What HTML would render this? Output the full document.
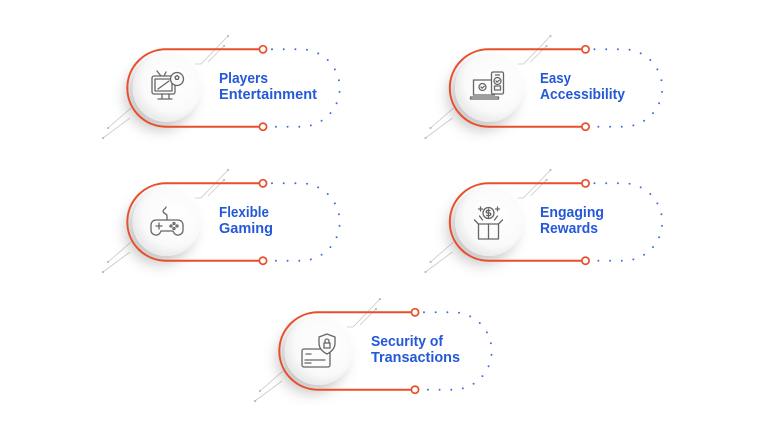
<!DOCTYPE html>
<html><head><meta charset="utf-8"><style>
html,body{margin:0;padding:0;background:#fff;}
svg{display:block;}
text{font-family:"Liberation Sans",Arial,sans-serif;font-weight:bold;font-size:14.5px;fill:#2459d8;}
</style></head><body>
<svg width="768" height="438" viewBox="0 0 768 438" xmlns="http://www.w3.org/2000/svg">
<defs>
<filter id="sh" x="-60%" y="-60%" width="220%" height="220%">
<feDropShadow dx="-7" dy="8" stdDeviation="7" flood-color="#000" flood-opacity="0.22"/>
</filter>
<radialGradient id="wg" cx="0.6" cy="0.4" r="0.6">
<stop offset="0" stop-color="#ffffff"/><stop offset="0.75" stop-color="#fafafa"/><stop offset="1" stop-color="#ebebeb"/>
</radialGradient>
<g id="frame">
<g stroke="#c8c8c8" stroke-width="0.8" fill="none">
<polyline points="228,36 201,64 195,64"/>
<line x1="224" y1="46" x2="208" y2="62"/>
<line x1="130" y1="118" x2="103" y2="138"/>
<line x1="131" y1="108" x2="108" y2="128"/>
</g>
<g fill="#bbb"><circle cx="228" cy="36" r="1.1"/><circle cx="224" cy="46" r="1.1"/><circle cx="103" cy="138" r="1.1"/><circle cx="108" cy="128" r="1.1"/></g>
<circle cx="166.5" cy="88" r="34" fill="url(#wg)" filter="url(#sh)"/>
<path d="M259.5,49.3 H166 A38.7,38.7 0 0 0 166,126.7 H259.5" fill="none" stroke="#e94e2c" stroke-width="2"/>
<circle cx="263" cy="49.3" r="3.6" fill="#fff" stroke="#e94e2c" stroke-width="1.7"/>
<circle cx="263" cy="126.7" r="3.6" fill="#fff" stroke="#e94e2c" stroke-width="1.7"/>
<path d="M272,49.3 H301 A38.7,38.7 0 0 1 301,126.7 H272" fill="none" stroke="#3d6ddc" stroke-width="2" stroke-linecap="round" stroke-dasharray="0 11.7"/>
</g>
</defs>

<use href="#frame"/>
<use href="#frame" x="322.5" y="0"/>
<use href="#frame" x="0" y="134"/>
<use href="#frame" x="322.5" y="134"/>
<use href="#frame" x="152" y="263"/>

<g fill="none" stroke="#666" stroke-width="1.3" stroke-linecap="round" stroke-linejoin="round">
<g>
<rect x="152" y="76" width="23" height="18" rx="2"/>
<rect x="155" y="79" width="17" height="12"/>
<path d="M162,94 v4 M169,94 v4 M158,99 h14"/>
<path d="M161,76 l-4,-5 M164,76 l2,-4"/>
<path d="M158,89 l11,-8"/>
<circle cx="177" cy="79" r="6.5" fill="#fafafa"/>
<path d="M175,77 l2,-1.5 l2,1.5 l-0.8,2.3 h-2.4 z"/>
</g>
<g transform="translate(322.5,0)">
<rect x="151" y="80" width="21" height="15"/>
<path d="M148,97 h28 v2 h-28 z"/>
<circle cx="160" cy="87" r="3.5"/>
<path d="M158.5,87 l1.2,1.2 l2,-2"/>
<rect x="169" y="72" width="12" height="22" rx="1.5" fill="#fafafa"/>
<circle cx="175" cy="81" r="3.5"/>
<path d="M173.5,81 l1.2,1.2 l2,-2"/>
<rect x="172" y="86" width="6" height="4"/>
<path d="M173,75 h4"/>
</g>
<g transform="translate(0,134)">
<path d="M156,86 h22 a5,5 0 0 1 5,5 v5 a5,5 0 0 1 -9,3 l-1,-2 h-12 l-1,2 a5,5 0 0 1 -9,-3 v-5 a5,5 0 0 1 5,-5 z"/>
<path d="M156,92 h6 M159,89 v6"/>
<circle cx="174" cy="89.5" r="1"/><circle cx="177" cy="92" r="1"/><circle cx="174" cy="94.5" r="1"/><circle cx="171" cy="92" r="1"/>
<path d="M167,86 v-4 c0,-3 -4,-2 -4,-5 c0,-2 3,-2 3,-4"/>
</g>
<g transform="translate(322.5,134)">
<rect x="156" y="90" width="20" height="15"/>
<path d="M166,90 v15 M156,90 l-4,-4 M176,90 l4,-4 M160,86 l-3,-4 M172,86 l3,-4"/>
<circle cx="166" cy="79" r="5.5" fill="#fafafa"/>
<path d="M167.5,76.5 h-2.5 a1.2,1.2 0 0 0 0,2.5 h2 a1.2,1.2 0 0 1 0,2.5 h-2.8 M166,75 v8.5"/>
<path d="M156,75 h4 M158,73 v4 M173,75 h4 M175,73 v4"/>
</g>
<g transform="translate(152,263)">
<rect x="150" y="86" width="28" height="18" rx="2"/>
<path d="M154,91 h5 M153,97 h20 M153,100 h6"/>
<path d="M175,71 l8,3 v6 c0,6 -4,9 -8,11 c-4,-2 -8,-5 -8,-11 v-6 z" fill="#fafafa"/>
<rect x="172" y="80" width="6" height="5"/>
<path d="M173,80 v-2 a2,2 0 0 1 4,0 v2"/>
</g>
</g>

<text x="219" y="83" textLength="49" lengthAdjust="spacingAndGlyphs">Players</text>
<text x="219" y="99" textLength="98" lengthAdjust="spacingAndGlyphs">Entertainment</text>
<text x="540" y="83" textLength="31" lengthAdjust="spacingAndGlyphs">Easy</text>
<text x="540" y="99" textLength="85" lengthAdjust="spacingAndGlyphs">Accessibility</text>
<text x="219" y="217" textLength="50" lengthAdjust="spacingAndGlyphs">Flexible</text>
<text x="219" y="233" textLength="54" lengthAdjust="spacingAndGlyphs">Gaming</text>
<text x="540" y="217" textLength="64" lengthAdjust="spacingAndGlyphs">Engaging</text>
<text x="540" y="233" textLength="58" lengthAdjust="spacingAndGlyphs">Rewards</text>
<text x="371" y="346" textLength="72" lengthAdjust="spacingAndGlyphs">Security of</text>
<text x="371" y="362" textLength="89" lengthAdjust="spacingAndGlyphs">Transactions</text>
</svg>
</body></html>
